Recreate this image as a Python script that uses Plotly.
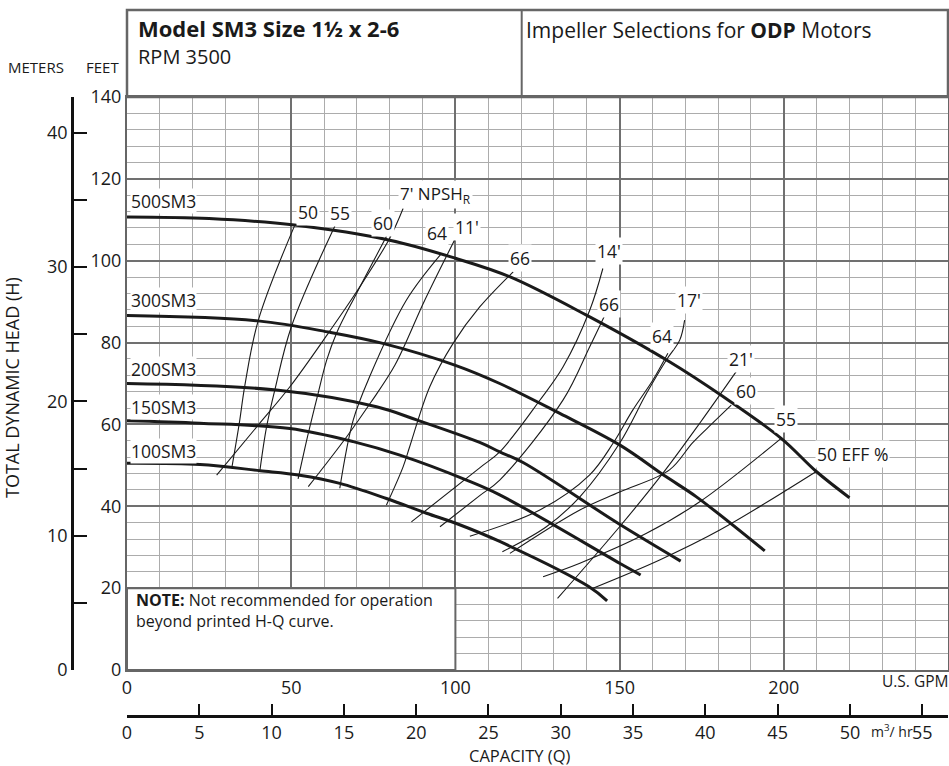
import plotly.graph_objects as go

# ---- H-Q curves (US GPM, feet) ----
q_500 = [0, 25, 51, 80, 100, 116.5, 139.9, 165.2, 181.5, 199.2, 209.9, 220]
h_500 = [110.7, 110.3, 108.7, 105.0, 100.6, 96.1, 86.7, 75.3, 66.8, 56.6, 48.5, 42.1]
q_300 = [0, 39.9, 61.8, 77.9, 99.8, 113.5, 131.8, 150, 164.2, 173.4, 194.2]
h_300 = [86.6, 85.3, 82.5, 79.8, 74.5, 70.0, 62.7, 55.0, 47.2, 42.3, 29.1]
q_200 = [0, 45.5, 76, 88.2, 107.4, 113.5, 120.6, 150, 168.6]
h_200 = [70.0, 68.4, 64.3, 61.1, 55.6, 53.3, 50.7, 35.6, 26.6]
q_150 = [0, 22.2, 49.6, 68.9, 83.1, 103.4, 113.5, 150, 156.4]
h_150 = [60.9, 60.3, 59.0, 55.8, 52.5, 46.4, 42.8, 26.1, 23.2]
q_100 = [0, 22.2, 40.5, 52.6, 64.8, 79, 91.2, 100.3, 113.5, 140.6, 146.2]
h_100 = [50.5, 50.2, 48.7, 47.6, 45.6, 41.9, 38.3, 35.8, 31.4, 20.4, 16.9]

impellers = ["500SM3", "300SM3", "200SM3", "150SM3", "100SM3"]
impeller_label_y = [114.7, 90.3, 73.6, 64.2, 53.4]

# ---- efficiency contours ----
eff_50l_q = [51.1, 40.0, 35.9, 34.2, 31.9]
eff_50l_h = [108.7, 85.5, 69.6, 60.3, 49.3]
eff_55l_q = [63.3, 50.1, 45.0, 42.5, 40.5]
eff_55l_h = [108.5, 84.0, 68.4, 59.4, 48.9]
eff_60l_q = [79.0, 69.9, 63.8, 60.8, 58.2, 55.2, 52.1]
eff_60l_h = [105.9, 92.0, 82.3, 75.7, 67.6, 57.8, 46.7]
eff_64l_q = [95.8, 85.1, 73.9, 68.9, 64.8]
eff_64l_h = [101.8, 90.4, 71.7, 61.1, 44.4]
eff_66l_q = [117.6, 107.4, 99.3, 92.2, 86.1, 84.1, 79.0]
eff_66l_h = [97.3, 88.7, 79.8, 69.2, 54.6, 49.7, 40.3]
eff_66r_q = [145.5, 140.9, 132.8, 113.5, 107.4, 95.3]
eff_66r_h = [86.7, 79.0, 66.0, 46.4, 42.6, 35.0]
eff_64r_q = [164.7, 160.1, 154.0, 148.0, 140.9, 125.7, 104.4]
eff_64r_h = [77.4, 70.8, 63.5, 55.4, 47.7, 39.1, 32.7]
eff_60r_q = [184.0, 178.3, 172.2, 165.2, 150.0, 137.9, 116.6]
eff_60r_h = [64.7, 60.3, 55.5, 48.9, 43.5, 39.1, 28.5]
eff_55r_q = [199.2, 174.4, 158.2, 137.9, 126.7]
eff_55r_h = [56.6, 41.1, 33.4, 26.1, 22.8]
eff_50r_q = [209.9, 180.5, 162.2, 141.9]
eff_50r_h = [48.5, 34.2, 26.9, 20.0]

# ---- NPSH required lines ----
npsh_7_q = [84.1, 80.0, 69.9, 61.3, 49.6, 39.5, 27.3]
npsh_7_h = [112.8, 105.5, 92.4, 82.3, 69.2, 59.4, 47.6]
npsh_11_q = [99.8, 90.7, 81.6, 74.0, 66.9, 55.2]
npsh_11_h = [105.1, 90.4, 74.5, 65.1, 57.0, 44.8]
npsh_14_q = [144.9, 140.9, 132.8, 125.7, 113.5, 107.4, 86.6]
npsh_14_h = [98.1, 87.9, 74.1, 65.9, 53.3, 49.4, 36.2]
npsh_17_q = [169.8, 168.3, 164.2, 158.2, 150.0, 137.9, 127.7, 114.3]
npsh_17_h = [85.5, 80.6, 75.7, 67.6, 55.4, 42.3, 35.0, 28.9]
npsh_21_q = [185.5, 174.4, 163.2, 150.0, 131.1]
npsh_21_h = [72.9, 60.3, 48.1, 35.0, 17.5]

# ---- curve labels (text, GPM, feet) ----
label_text = ["50", "55", "60", "64", "11'", "66", "14'", "66", "17'", "64", "21'", "60", "55"]
label_q = [55.2, 65.0, 77.8, 94.4, 103.4, 119.8, 146.8, 146.8, 171.1, 163.0, 186.9, 188.6, 200.8]
label_h = [112.0, 111.7, 109.3, 106.7, 108.3, 100.6, 102.4, 89.4, 90.4, 81.6, 75.9, 68.2, 61.3]

# ---- axes ----
gpm_ticks = [0, 50, 100, 150, 200]
feet_ticks = [0, 20, 40, 60, 80, 100, 120, 140]
meter_ticks = [0, 10, 20, 30, 40]
m3hr_ticks = [0, 5, 10, 15, 20, 25, 30, 35, 40, 45, 50, 55]

FONT = "Open Sans, Noto Sans, sans-serif"
INK = "#1a1a1a"
FIG_W, FIG_H = 949, 766
PAPER_W = FIG_W - 1


def pxx(x):
    """window pixel x -> paper x"""
    return x / PAPER_W


def pxy(y):
    """window pixel y -> paper y"""
    return (FIG_H - y) / FIG_H


def paper_text(x, y, text, size, **kw):
    d = dict(x=pxx(x), y=pxy(y), xref="paper", yref="paper", text=text, showarrow=False,
             xanchor="center", yanchor="middle", font=dict(size=size, color=INK))
    d.update(kw)
    return d


fig = go.Figure()

for q, h in [(q_500, h_500), (q_300, h_300), (q_200, h_200), (q_150, h_150), (q_100, h_100)]:
    fig.add_trace(go.Scatter(x=q, y=h, mode="lines", line=dict(color=INK, width=3, shape="spline"),
                             hoverinfo="skip"))

thin = [
    (eff_50l_q, eff_50l_h), (eff_55l_q, eff_55l_h), (eff_60l_q, eff_60l_h),
    (eff_64l_q, eff_64l_h), (eff_66l_q, eff_66l_h), (eff_66r_q, eff_66r_h),
    (eff_64r_q, eff_64r_h), (eff_60r_q, eff_60r_h), (eff_55r_q, eff_55r_h),
    (eff_50r_q, eff_50r_h),
    (npsh_7_q, npsh_7_h), (npsh_11_q, npsh_11_h), (npsh_14_q, npsh_14_h),
    (npsh_17_q, npsh_17_h), (npsh_21_q, npsh_21_h),
]
for q, h in thin:
    fig.add_trace(go.Scatter(x=q, y=h, mode="lines", line=dict(color=INK, width=1.1, shape="spline"),
                             hoverinfo="skip"))

# dummy trace so the metric axes get drawn
fig.add_trace(go.Scatter(x=[0], y=[0], xaxis="x2", yaxis="y2", mode="markers",
                         marker=dict(opacity=0), hoverinfo="skip"))

annotations = []
for name, y in zip(impellers, impeller_label_y):
    annotations.append(dict(x=1, y=y, xref="x", yref="y", text=name, showarrow=False,
                            xanchor="left", font=dict(size=17.5, color=INK), bgcolor="white",
                            borderpad=0))
for t, q, h in zip(label_text, label_q, label_h):
    annotations.append(dict(x=q, y=h, xref="x", yref="y", text=t, showarrow=False,
                            font=dict(size=17.5, color=INK), bgcolor="white", borderpad=1))
annotations.append(dict(x=82.6, y=116.1, xref="x", yref="y", text="7' NPSH<sub>R</sub>",
                        showarrow=False, xanchor="left", font=dict(size=17, color=INK),
                        bgcolor="white", borderpad=1))
annotations.append(dict(x=209.4, y=52.8, xref="x", yref="y", text="50 EFF %",
                        showarrow=False, xanchor="left", font=dict(size=17.5, color=INK),
                        bgcolor="white", borderpad=1))

annotations += [
    paper_text(134, 610, "<b>NOTE:</b> Not recommended for operation<br>beyond printed H-Q curve.",
               16, xanchor="left", align="left"),
    paper_text(136, 28, "<b>Model SM3 Size 1½ x 2-6</b>", 22, xanchor="left"),
    paper_text(136, 56, "RPM 3500", 20, xanchor="left"),
    paper_text(524, 30, "Impeller Selections for <b>ODP</b> Motors", 21, xanchor="left"),
    paper_text(36, 67, "METERS", 15),
    paper_text(102, 67, "FEET", 15),
    paper_text(12, 388, "TOTAL DYNAMIC HEAD (H)", 18, textangle=-90),
    paper_text(915, 681, "U.S. GPM", 15.5),
    paper_text(892, 731, "m<sup>3</sup>/ hr", 14),
    paper_text(519, 755.5, "CAPACITY (Q)", 16.5, borderpad=0),
]

shapes = [
    # header box
    dict(type="rect", xref="paper", yref="paper", x0=pxx(127), x1=pxx(948), y0=pxy(97), y1=pxy(10),
         line=dict(color="#666", width=2.5)),
    dict(type="line", xref="paper", yref="paper", x0=pxx(521.7), x1=pxx(521.7), y0=pxy(97),
         y1=pxy(10), line=dict(color="#666", width=2)),
    # note box
    dict(type="rect", xref="x", yref="y", x0=0, x1=100, y0=0, y1=20, layer="above",
         fillcolor="white", line=dict(color="#666", width=2)),
]

fig.update_layout(
    width=FIG_W, height=FIG_H,
    template="none",
    margin=dict(l=0, r=1, t=0, b=0),
    paper_bgcolor="white", plot_bgcolor="white",
    showlegend=False,
    font=dict(family=FONT, color=INK),
    annotations=annotations,
    shapes=shapes,
    xaxis=dict(domain=[pxx(127), 1], range=[0, 250], tickvals=gpm_ticks, ticks="",
               showgrid=True, gridcolor="#707070", gridwidth=2,
               minor=dict(dtick=10, tick0=0, showgrid=True, gridcolor="#acacac", gridwidth=1.3),
               showline=True, mirror=True, linecolor="#666", linewidth=2, zeroline=False,
               tickfont=dict(size=18), automargin=False),
    yaxis=dict(domain=[pxy(670), pxy(97)], range=[0, 140], tickvals=feet_ticks, ticks="",
               showgrid=True, gridcolor="#707070", gridwidth=2,
               minor=dict(dtick=4, tick0=0, showgrid=True, gridcolor="#acacac", gridwidth=1.3),
               showline=True, mirror=True, linecolor="#666", linewidth=2, zeroline=False,
               tickfont=dict(size=18), automargin=False),
    xaxis2=dict(overlaying="x", anchor="free", position=pxy(716), side="bottom",
                range=[0, 250 / 4.40287], tickvals=m3hr_ticks, ticks="inside", ticklen=11,
                tickwidth=2, tickcolor="#111", showline=True, linecolor="#111", linewidth=2.5,
                showgrid=False, zeroline=False, tickfont=dict(size=18), automargin=False),
    yaxis2=dict(overlaying="y", anchor="free", position=pxx(72), side="left",
                range=[0, 140 / 3.28084], tickvals=meter_ticks,
                ticks="inside", ticklen=13, tickwidth=2, tickcolor="#111", showline=True,
                minor=dict(dtick=5, tick0=0, ticks="inside", ticklen=13, tickwidth=2,
                           tickcolor="#111"),
                linecolor="#111", linewidth=2.5, showgrid=False, zeroline=False,
                tickfont=dict(size=18), automargin=False),
)

# drop the default 8px page margin so the figure sits at the window origin
fig.write_html("out.html", config={"displayModeBar": False},
               post_script="document.body.style.margin = '0';")
